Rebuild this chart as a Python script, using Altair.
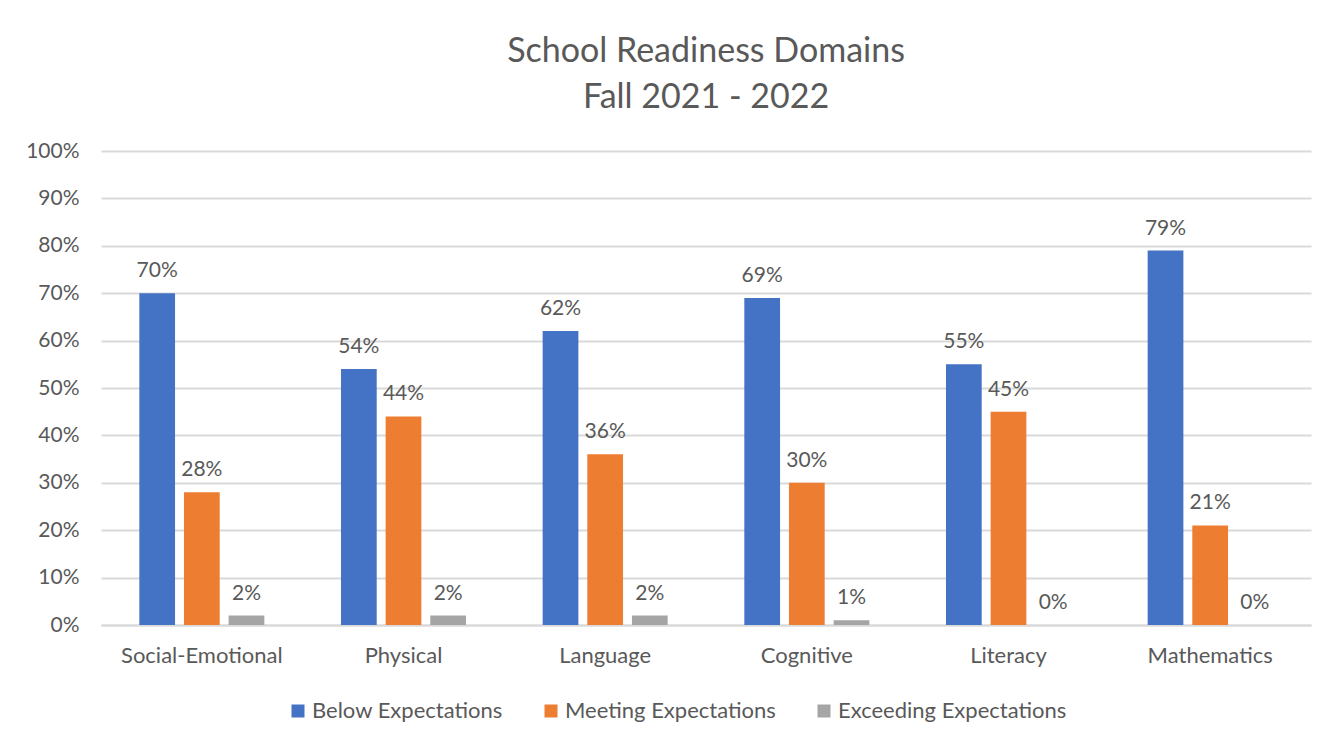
import altair as alt
import pandas as pd

domains = ["Social-Emotional", "Physical", "Language", "Cognitive", "Literacy", "Mathematics"]
series = ["Below Expectations", "Meeting Expectations", "Exceeding Expectations"]
below = [70, 54, 62, 69, 55, 79]
meeting = [28, 44, 36, 30, 45, 21]
exceeding = [2, 2, 2, 1, 0, 0]
colors = ["#4472C4", "#ED7D31", "#A5A5A5"]
y_ticks = list(range(0, 101, 10))

rows = []
for i, d in enumerate(domains):
    for s, vals in zip(series, [below, meeting, exceeding]):
        rows.append({"domain": d, "series": s, "value": vals[i]})
df = pd.DataFrame(rows)

FONT = "Lato"
TXT = "#595959"
GRID = "#D9D9D9"

x = alt.X("domain:N", sort=domains, title=None,
          scale=alt.Scale(paddingInner=0.38, paddingOuter=0.19),
          axis=alt.Axis(labelAngle=0, labelFontSize=22, labelColor=TXT, labelFont=FONT,
                        ticks=False, domain=True, domainColor=GRID, domainWidth=2,
                        labelPadding=20))
xo = alt.XOffset("series:N", sort=series, scale=alt.Scale(paddingInner=0.2, paddingOuter=0))
y = alt.Y("value:Q", title=None,
          scale=alt.Scale(domain=[0, 100]),
          axis=alt.Axis(values=y_ticks, labelExpr="datum.value + '%'", labelFontSize=21,
                        labelColor=TXT, labelFont=FONT, ticks=False, domain=False,
                        gridColor=GRID, gridWidth=2, labelPadding=22))

base = alt.Chart(df)
bars = base.mark_bar().encode(
    x=x, xOffset=xo, y=y,
    color=alt.Color("series:N", sort=series, title=None,
                    scale=alt.Scale(domain=series, range=colors),
                    legend=alt.Legend(orient="none", direction="horizontal",
                                      legendX=186, legendY=549,
                                      labelFontSize=22, labelColor=TXT, labelFont=FONT,
                                      labelLimit=0,
                                      symbolType="square", symbolSize=169, symbolStrokeWidth=0,
                                      columnPadding=37, labelOffset=3)),
)
labels = base.mark_text(baseline="alphabetic", dy=-16, fontSize=21, color=TXT, font=FONT).encode(
    x=x, xOffset=xo, y=y,
    text=alt.Text("label:N"),
).transform_calculate(label="datum.value + '%'")

chart = (bars + labels).properties(
    width=1210, height=474,
    padding={"left": 17, "top": 27, "right": 15, "bottom": 2},
    title=alt.TitleParams(["School Readiness Domains", "Fall 2021 - 2022"], fontSize=34,
                          lineHeight=46, font=FONT, color=TXT, fontWeight="normal",
                          anchor="middle", offset=25),
).configure_view(stroke=None)

chart.save("out.html", embed_options={"renderer": "svg", "actions": False})
